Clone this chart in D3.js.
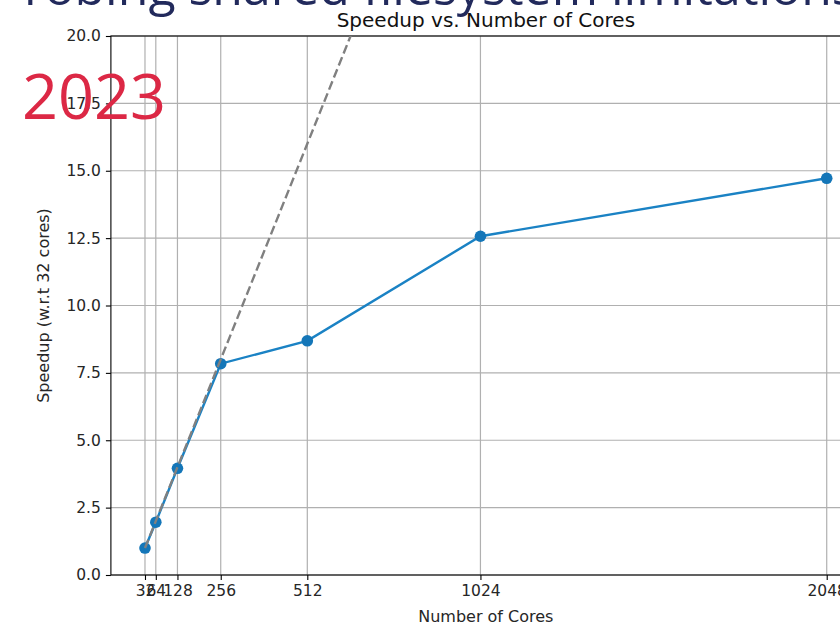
<!DOCTYPE html>
<html>
<head>
<meta charset="utf-8">
<script src="https://cdn.jsdelivr.net/npm/d3@7"></script>
<style>
  html, body { margin: 0; padding: 0; background: #fff; }
  svg { display: block; }
</style>
</head>
<body>
<svg id="chart" width="840" height="624"></svg>
<script>
// Measured speedup relative to the 32-core run
const cores = [32, 64, 128, 256, 512, 1024, 2048];
const speedup = [1.0, 1.96, 3.96, 7.84, 8.69, 12.57, 14.72];
const idealSpeedup = [1, 2, 4, 8, 16, 32, 64];   // linear scaling, cores / 32
const yTicks = [0, 2.5, 5, 7.5, 10, 12.5, 15, 17.5, 20];
const xTickLabels = ["32", "64", "128", "256", "512", "1024", "2048"];

const svg = d3.select("#chart");
const plot = { left: 110.9, right: 860.8, top: 36, bottom: 575 };

// x: linear with matplotlib-style 5% padding on each side
const span = d3.max(cores) - d3.min(cores);
const x = d3.scaleLinear()
  .domain([d3.min(cores) - 0.05 * span, d3.max(cores) + 0.05 * span])
  .range([plot.left, plot.right]);
const y = d3.scaleLinear().domain([0, 20]).range([plot.bottom, plot.top]);

const tickFont = "DejaVu Sans, sans-serif";
const ink = "#262626";

svg.append("defs").append("clipPath").attr("id", "plotClip")
  .append("rect")
  .attr("x", plot.left).attr("y", plot.top)
  .attr("width", plot.right - plot.left).attr("height", plot.bottom - plot.top);

// grid
const grid = svg.append("g").attr("stroke", "#b0b0b0").attr("stroke-width", 1.2);
grid.selectAll("line.gx").data(cores).join("line")
  .attr("x1", d => x(d)).attr("x2", d => x(d))
  .attr("y1", plot.top).attr("y2", plot.bottom);
grid.selectAll("line.gy").data(yTicks).join("line")
  .attr("x1", plot.left).attr("x2", plot.right)
  .attr("y1", d => y(d)).attr("y2", d => y(d));

// axes
const xAxis = d3.axisBottom(x).tickValues(cores)
  .tickFormat((d, i) => xTickLabels[i]).tickSize(5).tickPadding(5).tickSizeOuter(0);
const yAxis = d3.axisLeft(y).tickValues(yTicks)
  .tickFormat(d3.format(".1f")).tickSize(5).tickPadding(5).tickSizeOuter(0);

const gx = svg.append("g").attr("transform", `translate(0,${plot.bottom})`).call(xAxis);
const gy = svg.append("g").attr("transform", `translate(${plot.left},0)`).call(yAxis);
[gx, gy].forEach(g => {
  g.select(".domain").remove();
  g.selectAll(".tick line").attr("stroke", "#000").attr("stroke-width", 1.1);
  g.selectAll(".tick text").attr("fill", ink)
    .style("font-family", tickFont).style("font-size", "15.5px");
});

// spines
svg.append("rect")
  .attr("x", plot.left).attr("y", plot.top)
  .attr("width", plot.right - plot.left).attr("height", plot.bottom - plot.top)
  .attr("fill", "none").attr("stroke", "#000").attr("stroke-width", 1.1);

// measured series
const line = d3.line().x((d, i) => x(cores[i])).y(d => y(d));
svg.append("path").datum(speedup)
  .attr("d", line).attr("fill", "none")
  .attr("stroke", "#1a82c4").attr("stroke-width", 2.4);
svg.append("g").selectAll("circle").data(speedup).join("circle")
  .attr("cx", (d, i) => x(cores[i])).attr("cy", d => y(d))
  .attr("r", 5.8).attr("fill", "#1476b8");

// ideal linear scaling
svg.append("path").datum(idealSpeedup)
  .attr("clip-path", "url(#plotClip)")
  .attr("d", line).attr("fill", "none")
  .attr("stroke", "#808080").attr("stroke-width", 2.4)
  .attr("stroke-dasharray", "9,4");

// titles
svg.append("text").attr("x", (plot.left + plot.right) / 2).attr("y", 27)
  .attr("text-anchor", "middle").attr("fill", "#111")
  .style("font-family", tickFont).style("font-size", "20px")
  .text("Speedup vs. Number of Cores");
svg.append("text").attr("x", (plot.left + plot.right) / 2).attr("y", 621.5)
  .attr("text-anchor", "middle").attr("fill", ink)
  .style("font-family", tickFont).style("font-size", "16px")
  .text("Number of Cores");
svg.append("text")
  .attr("transform", `translate(49,${(plot.top + plot.bottom) / 2}) rotate(-90)`)
  .attr("text-anchor", "middle").attr("fill", ink)
  .style("font-family", tickFont).style("font-size", "16px")
  .text("Speedup (w.r.t 32 cores)");

// slide heading and year overlaid on the figure
svg.append("text").attr("x", 24).attr("y", 4.5)
  .attr("fill", "#222a5c")
  .style("font-family", "'Open Sans', sans-serif").style("font-size", "50px")
  .text("robing shared filesystem limitations");
svg.append("text").attr("x", 22).attr("y", 119)
  .attr("fill", "#dc2845")
  .style("font-family", "'Open Sans', sans-serif").style("font-size", "63px")
  .text("2023");
</script>
</body>
</html>
